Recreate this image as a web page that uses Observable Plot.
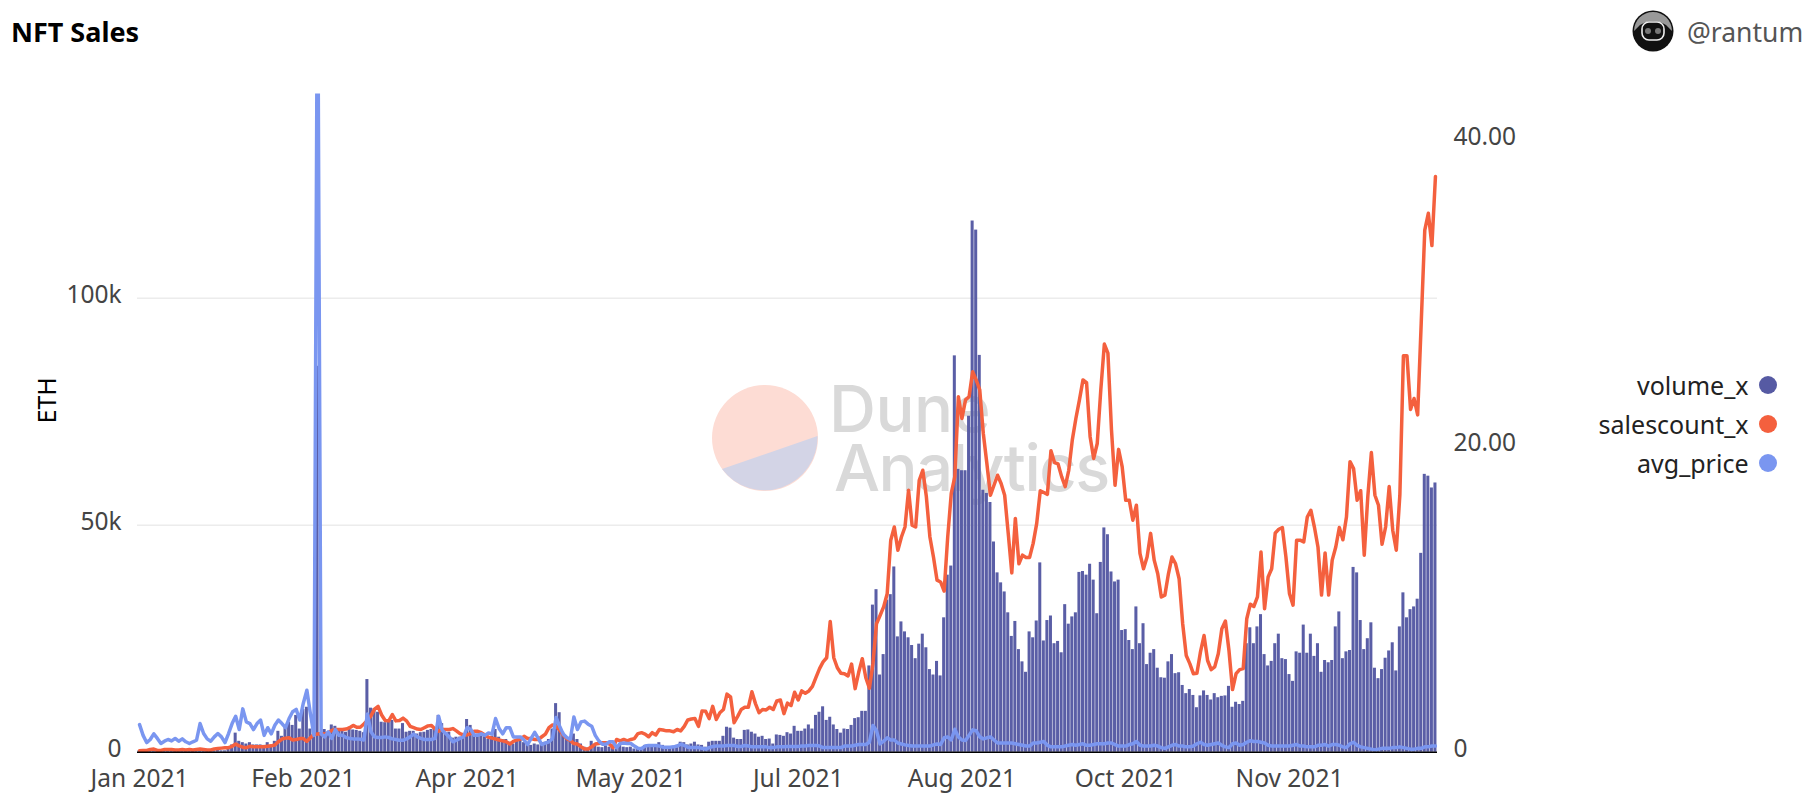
<!DOCTYPE html>
<html>
<head>
<meta charset="utf-8">
<script src="https://cdn.jsdelivr.net/npm/d3@7"></script>
<script src="https://cdn.jsdelivr.net/npm/@observablehq/plot@0.6"></script>
<style>
  html, body { margin: 0; padding: 0; background: #fff; width: 1815px; height: 800px; overflow: hidden; }
  body { font-family: "Noto Sans", sans-serif; position: relative; }
  #chart { position: absolute; left: 0; top: 0; z-index: 1; }
  #chart svg { display: block; }
  .abs { position: absolute; white-space: nowrap; }
  #title { left: 11px; top: 15px; font-size: 27px; line-height: 34px; font-weight: 700; color: #000; z-index: 2; }
  #author { left: 1687px; top: 15px; font-size: 26.5px; line-height: 34px; color: #555; z-index: 2; }
  #avatar { left: 1632px; top: 10px; width: 42px; height: 42px; z-index: 2; }
  #pie { left: 711px; top: 384px; width: 108px; height: 108px; z-index: 0; }
  #wm { left: 829px; top: 379px; font-family: "Inter", sans-serif; font-weight: 500; color: #d9d9d9; font-size: 65px; line-height: 59px; letter-spacing: -0.5px; z-index: 0; }
  #wm span { margin-left: 5px; letter-spacing: -1.5px; }
  .lg { right: 66.5px; font-size: 25px; line-height: 30px; color: #222; z-index: 2; }
  .dot { left: 1758.5px; width: 18px; height: 18px; border-radius: 50%; z-index: 2; }
</style>
</head>
<body>
<div class="abs" id="title">NFT Sales</div>
<svg class="abs" id="avatar" viewBox="0 0 42 42">
  <circle cx="21" cy="21" r="20.5" fill="#111"/>
  <path d="M2 21 A19 19 0 0 1 40 21 L34 15 Q21 7 8 15 Z" fill="#999"/>
  <rect x="10" y="12" width="22" height="18" rx="7" fill="#111" stroke="#eee" stroke-width="1.6"/>
  <circle cx="16" cy="21" r="3" fill="#777"/>
  <circle cx="26" cy="21" r="3" fill="#777"/>
</svg>
<div class="abs" id="author">@rantum</div>
<svg class="abs" id="pie" viewBox="0 0 108 108">
  <circle cx="54" cy="54" r="53" fill="#fddcd4"/>
  <path d="M106.5 52 A53 53 0 0 1 11 85 Z" fill="#d3d4e6"/>
</svg>
<div class="abs" id="wm">Dune<br><span>Analytics</span></div>
<div id="chart"></div>
<div class="abs lg" style="top:370px">volume_x</div>
<div class="abs dot" style="top:376px;background:#565aa3"></div>
<div class="abs lg" style="top:409px">salescount_x</div>
<div class="abs dot" style="top:415px;background:#f4603e"></div>
<div class="abs lg" style="top:448px">avg_price</div>
<div class="abs dot" style="top:454px;background:#7a96f0"></div>
<script>
const startDate = "2021-01-01";
const dayCount = 365;

// daily volume, thousands of ETH
const volumeK = [
  .3,.3,.2,.3,.3,.2,.3,.3,.2,.3,
  .3,.3,.2,.3,.2,.3,.3,.6,.4,.3,
  .3,.3,.4,.3,.3,.7,1.6,4.2,2.4,2.1,
  1.8,2.1,1.6,1.6,1.6,1.5,2.1,1.5,2.4,4.6,
  3.5,5.9,6.6,5.9,8.1,5.1,9.4,9.9,5.1,4.4,
  85,4,5,4.4,6,5.7,5.1,5,4.4,5.1,
  4.9,4.8,4.6,4.3,16,9.7,9.6,8.8,6.6,6.5,
  6.6,7,5.1,5.1,6.3,4.4,4.6,4.6,4,4.3,
  4.4,4.8,5,5.1,8.1,6.3,4.3,4.4,3.1,3.3,
  3.3,3.5,7.2,5.9,4.6,4,3.8,3.4,2.9,3.5,
  5,3.3,2.8,2.8,2.2,1.8,2.8,3.3,2.1,1.8,
  1.5,1.8,1.6,2.1,2.2,2.8,5.1,10.7,8.7,4.4,
  3.3,2.6,4,2.8,1.8,1.1,.9,2.4,1.6,1.1,
  1,1.3,1.1,.9,.7,1.5,1.1,1,1.1,.7,
  .6,.6,1.5,1.6,1.5,1.5,2.1,1.5,1.1,1,
  1.1,1.5,2.2,2.1,1.6,1.8,2.2,1.6,1.5,1.1,
  2.2,2.4,2.4,2.4,3.5,5.5,5.3,3.1,2.8,2.8,
  4.8,4.9,4.4,4,3.3,3.5,2.8,2.9,1.8,3.8,
  3.7,3.5,4.3,4,5.7,4.6,4.6,5.1,6,5.1,
  8.1,8.8,10,7,7.7,6,5,4.2,5.1,5,
  5.9,7.4,7.6,9,9,19,32.4,35.8,17,21.5,
  33.5,34.7,40.8,25.4,28.7,26.5,25.2,23.5,20.6,23.8,
  26,23,18.2,17,20,16.8,29.6,39,41,87.3,
  62.3,62,62,74,117,115,87.4,57.7,57,55,
  46.3,39.5,37.3,35.3,30.7,25.5,28.8,22.6,19.9,17.6,
  26.5,25.2,28.9,41.7,24.5,29,30,23.9,24.4,21.9,
  32.5,28.2,29.8,30.7,39.6,39.8,39,41.4,37.9,30.5,
  41.8,49.4,47.9,39.7,37.5,37.9,26.8,27,24.6,22.6,
  32,23.9,28.3,19.3,21.8,22.6,18.5,16.4,16.3,19.9,
  21.5,17.3,17.5,14.7,12.9,13.8,12.5,9.8,12.4,13.5,
  12.5,11.5,12.9,12,12.3,12.4,14.5,9.9,11,10.5,
  11.2,23.9,27.4,23.9,27.6,30.3,21.5,19,20,23.9,
  26,20.6,20.4,17.1,15.6,22.1,21.8,28,21.8,26,
  21.1,23.9,17.6,20.2,19.7,20.2,27.6,30.9,20.6,22.1,
  22.4,40.7,39.5,29,22.6,25,28.5,18.5,16.2,18.2,
  20.7,22.3,24.1,17.9,27.6,35.1,29.6,31.4,32,33.7,
  43.8,61.2,60.8,58.2,59.3
];

// daily sales count, thousands
const salesK = [
  .3,.4,.4,.6,.7,.4,.4,.6,.6,.6,
  .5,.5,.6,.5,.6,.5,.6,.7,.6,.5,
  .5,.7,.8,.9,1,1,1.3,1.8,1.4,1.1,
  1,1.3,1.2,1.2,1.2,1.2,1.3,1.4,1.6,2.3,
  2.9,3.1,3.2,2.7,2.8,3,3,2.4,3.2,3.9,
  4,4.1,4,4.2,4.8,5,5,5,5.1,5.4,
  5.9,5.5,5.5,6.2,7,8,9.5,10.1,8.2,7,
  6.9,8.3,6.9,7,7.5,6.9,5.7,5.4,5.1,5,
  5.4,5.8,5.9,5.1,4.6,5,5,5,5.2,4.7,
  4.1,3.8,3.8,4.1,4.6,4.6,4.3,3.8,3.3,3.1,
  2.9,2.7,2.5,2.3,1.8,2.4,2.7,2.9,3.5,3,
  3,2.8,2.8,3.4,4,5.4,6,5.7,4.9,3.8,
  3,2.6,1.9,1.8,1.2,.7,.7,1.2,1.8,1.9,
  2.1,2.1,1.8,1,2.8,2.5,2.8,2.5,2.8,3,
  4.1,4.3,4,3.4,4.3,3.8,5,4.9,4.7,4.7,
  4.5,5,4.7,5.7,7.1,7.3,7.4,5.7,9.1,9,
  7.4,10.1,7.2,8.7,9.4,12.8,12.2,6.5,7.9,9.4,
  9.9,9.9,13.3,10.7,8.7,9.4,9.3,9.9,9.4,11.3,
  11.5,8.5,10.8,10.3,13.2,11.5,13.5,13,13.5,14.5,
  16.5,18.4,19.9,20.8,28.8,20.8,18.6,17.4,17.3,16.8,
  19.4,14,17.6,20.6,16.4,14.1,19.5,28.3,30.1,32,
  34.9,46.7,49.6,44.5,47.4,49.6,57.7,50,49.6,59.9,
  62.1,56.3,47.4,43,37.9,37.5,35.5,47.4,57,60.7,
  78.3,73.5,77.6,78.3,83.8,82,79.8,70.2,63.6,56.6,
  58.8,61,59.2,56.6,48.2,39.5,51.5,41.5,43.4,42.9,
  42.9,46,50.4,57.6,57.2,56.8,66.4,63.8,63.5,60.7,
  58.5,62.1,68.8,73.5,77.6,82,81.4,69.5,64.7,68,
  79.8,89.9,87.9,71,58.8,66.7,62.9,55.5,55.5,51.1,
  54.4,43.8,40.4,43,48.2,42.3,39.3,34.2,34.6,39.3,
  43,41.5,38.2,28.3,21.3,19.5,17.3,17.4,22.1,25.7,
  20.2,18.2,18.8,21.7,27.2,28.9,22.4,13.8,17.3,18.2,
  18.4,29.4,32.6,32.1,34.2,44.1,31.6,38.6,40.4,48.3,
  49.1,49.5,43,34.9,32.4,46.7,46.7,46.3,51.8,53.3,
  49.6,45.2,34.6,43.9,34.6,42.3,45.2,49.5,46.8,51.8,
  64,62.5,55.5,57.6,43.4,56.3,66,56.6,54.4,45.8,
  49.6,58.5,48.9,44.5,56.6,87.3,87.3,75.5,77.9,74.3,
  94.5,115,118.7,111.6,126.8
];

// daily average price, ETH (right axis)
const avgPrice = [
  1.8,1.1,.63,.83,1.2,.9,.57,.72,.83,.74,
  .9,.72,.87,.68,.57,.68,.78,1.87,1.22,.87,
  .72,1,1.22,1,.63,1.22,1.87,2.35,1.48,2.83,
  1.98,1.87,1.48,1.87,2.1,1.1,1.6,1.2,1.76,2.1,
  1.87,1.6,2.2,2.64,2.8,2.1,3.2,4.05,2.5,1.1,
  54,1.2,1,1.33,.9,1.48,1.1,1.1,.96,.9,
  .87,.87,.85,.8,2.5,1.33,1,.96,.96,1,
  .96,.87,.83,.78,.78,.87,1,1.18,1,.9,
  .83,.83,.83,.9,2.35,1.44,1.22,1,.68,.78,
  .9,1,1.6,1.5,1.1,1.1,1.2,1.1,1.26,1.18,
  2.2,1.55,1.2,1.6,1.6,1,1,1,.8,.5,
  .9,1.3,.9,.5,.6,.68,.9,2.27,1.7,1.18,
  .96,.83,2.3,1.48,1.98,2.03,1.83,1.7,1.1,.74,
  .52,.52,.68,.68,.3,.57,.6,.57,.57,.4,
  .26,.24,.4,.44,.44,.44,.4,.33,.33,.33,
  .35,.4,.52,.44,.33,.3,.3,.3,.26,.2,
  .3,.37,.4,.4,.4,.44,.44,.44,.37,.37,
  .44,.4,.35,.35,.35,.35,.35,.3,.3,.35,
  .35,.35,.37,.37,.37,.37,.4,.4,.44,.44,
  .44,.4,.3,.3,.3,.3,.3,.3,.4,.4,
  .4,.45,.5,.5,.5,.65,1.74,1.4,.54,.72,
  .94,.8,.8,.6,.54,.48,.44,.4,.4,.4,
  .4,.4,.4,.48,.54,.5,.94,1,.8,1.5,
  1,.8,.76,1.1,1.46,1.4,1,.87,.94,1,
  .8,.6,.6,.6,.6,.6,.55,.5,.45,.4,
  .4,.6,.6,.65,.7,.45,.35,.35,.35,.35,
  .4,.45,.5,.45,.5,.55,.45,.45,.5,.55,
  .55,.55,.6,.6,.5,.4,.4,.4,.5,.55,
  .7,.45,.4,.4,.4,.45,.4,.3,.25,.35,
  .45,.5,.4,.4,.35,.35,.4,.55,.65,.5,
  .45,.5,.55,.6,.45,.35,.3,.55,.6,.45,
  .5,.65,.75,.7,.7,.65,.6,.45,.4,.4,
  .4,.4,.4,.4,.45,.5,.4,.4,.35,.35,
  .35,.45,.45,.5,.4,.5,.5,.45,.35,.3,
  .55,.65,.45,.35,.3,.25,.2,.15,.2,.25,
  .25,.25,.3,.3,.35,.3,.25,.2,.2,.25,
  .25,.35,.35,.4,.4
];

const xTickDates = ["2021-01-01","2021-02-16","2021-04-03","2021-05-19","2021-07-05","2021-08-20","2021-10-05","2021-11-20"];
const leftTicks = [0, 50000, 100000];
const rightTicks = [0, 20, 40];
const yMax = 145000;       // left-axis top
const rightMax = 43;       // right-axis value at the same height

const isoFormat = d3.utcFormat("%Y-%m-%d");
const dayList = d3.utcDay.range(new Date(startDate + "T00:00Z"), d3.utcDay.offset(new Date(startDate + "T00:00Z"), dayCount));
const days = dayList.map(isoFormat);
const rows = days.map((day, i) => ({
  day,
  volume: volumeK[i] * 1000,
  sales: salesK[i] * 1000,
  price: avgPrice[i]
}));

const y2 = d3.scaleLinear().domain([0, rightMax]).range([0, yMax]);
const monthLabel = d => d3.utcFormat("%b %Y")(new Date(d + "T00:00Z"));
const axisFont = 24.5;

const chart = Plot.plot({
  width: 1815,
  height: 800,
  marginLeft: 137,
  marginRight: 378,
  marginTop: 93.4,
  marginBottom: 48.3,
  style: { background: "transparent", fontFamily: '"Noto Sans", sans-serif', overflow: "visible" },
  x: { type: "band", domain: days, padding: 0.15, round: false, align: 0.5, label: null },
  y: { domain: [0, yMax], label: null },
  marks: [
    Plot.ruleY([50000, 100000], { stroke: "#ececec", strokeWidth: 1.5 }),
    Plot.barY(rows, { x: "day", y: "volume", fill: "#5a5ea6" }),
    Plot.line(rows, { x: "day", y: "sales", stroke: "#f4603e", strokeWidth: 3.5 }),
    Plot.line(rows, { x: "day", y: d => y2(d.price), stroke: "#7a96f0", strokeWidth: 3.5, clip: true }),
    Plot.ruleY([0], { stroke: "#000", strokeWidth: 1.5 }),
    Plot.axisX(xTickDates, {
      tickSize: 0, tickPadding: 17, fontSize: axisFont, fill: "#444", label: null,
      tickFormat: monthLabel
    }),
    Plot.axisY(leftTicks, {
      anchor: "left", tickSize: 0, tickPadding: 16, fontSize: axisFont, fill: "#444", label: null, dy: -3,
      tickFormat: d => d === 0 ? "0" : d / 1000 + "k"
    }),
    Plot.axisY(rightTicks, {
      anchor: "right", y: y2, tickSize: 0, tickPadding: 16, fontSize: axisFont, fill: "#444", label: null, dy: -3,
      tickFormat: d => d === 0 ? "0" : d.toFixed(2)
    }),
    Plot.text(["ETH"], {
      frameAnchor: "left", dx: -90, rotate: -90, fontSize: 25, fill: "#000",
      y: () => 72400
    })
  ]
});
document.getElementById("chart").append(chart);
</script>
</body>
</html>
